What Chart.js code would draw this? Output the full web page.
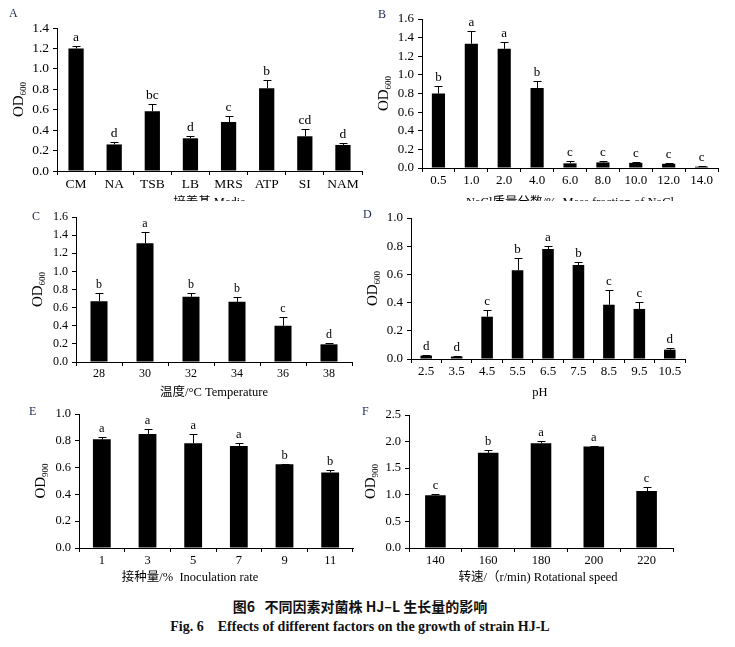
<!DOCTYPE html>
<html>
<head>
<meta charset="utf-8">
<script src="https://cdn.jsdelivr.net/npm/chart.js@4.4.1/dist/chart.umd.min.js"></script>
<style>
  body { margin: 0; background: #fff; width: 735px; height: 647px; position: relative; overflow: hidden; }
  .panel { position: absolute; overflow: hidden; }
  .tag { position: absolute; font: 12px "Liberation Serif", serif; color: #1c2450; }
  .cap { position: absolute; left: 0; width: 720px; text-align: center; color: #111; }
</style>
</head>
<body>
<div class="panel" id="pA" style="left:0;top:0;width:365px;height:201px"><canvas id="cA"></canvas></div>
<div class="panel" id="pB" style="left:365px;top:0;width:370px;height:201px"><canvas id="cB"></canvas></div>
<div class="panel" id="pC" style="left:0;top:201px;width:365px;height:200px"><canvas id="cC"></canvas></div>
<div class="panel" id="pD" style="left:365px;top:201px;width:370px;height:200px"><canvas id="cD"></canvas></div>
<div class="panel" id="pE" style="left:0;top:401px;width:365px;height:185px"><canvas id="cE"></canvas></div>
<div class="panel" id="pF" style="left:365px;top:401px;width:370px;height:185px"><canvas id="cF"></canvas></div>

<div class="tag" style="left:9px;top:6px">A</div>
<div class="tag" style="left:378px;top:7px">B</div>
<div class="tag" style="left:32px;top:209px">C</div>
<div class="tag" style="left:363px;top:207px">D</div>
<div class="tag" style="left:29px;top:404px">E</div>
<div class="tag" style="left:362px;top:404px">F</div>

<div class="cap" style="top:596px;font:bold 14px 'Noto Sans CJK SC', sans-serif">图6&nbsp;&nbsp;&nbsp;不同因素对菌株 HJ–L 生长量的影响</div>
<div class="cap" style="top:619px;font:bold 14px 'Liberation Serif', serif">Fig. 6&nbsp;&nbsp;&nbsp;&nbsp;Effects of different factors on the growth of strain HJ-L</div>

<script>
/* data */
const mediaLabels = ['CM', 'NA', 'TSB', 'LB', 'MRS', 'ATP', 'SI', 'NAM'];
const mediaOD  = [1.20, 0.26, 0.585, 0.32, 0.48, 0.81, 0.34, 0.255];
const mediaErr = [0.02, 0.025, 0.07, 0.02, 0.06, 0.08, 0.07, 0.022];
const mediaSig = ['a', 'd', 'bc', 'd', 'c', 'b', 'cd', 'd'];

const naclLabels = ['0.5', '1.0', '2.0', '4.0', '6.0', '8.0', '10.0', '12.0', '14.0'];
const naclOD  = [0.80, 1.335, 1.28, 0.86, 0.05, 0.06, 0.055, 0.045, 0.014];
const naclErr = [0.08, 0.135, 0.07, 0.07, 0.025, 0.015, 0.008, 0.005, 0.003];
const naclSig = ['b', 'a', 'a', 'b', 'c', 'c', 'c', 'c', 'c'];

const tempLabels = ['28', '30', '32', '34', '36', '38'];
const tempOD  = [0.67, 1.31, 0.72, 0.665, 0.40, 0.195];
const tempErr = [0.095, 0.12, 0.04, 0.05, 0.10, 0.018];
const tempSig = ['b', 'a', 'b', 'b', 'c', 'd'];

const phLabels = ['2.5', '3.5', '4.5', '5.5', '6.5', '7.5', '8.5', '9.5', '10.5'];
const phOD  = [0.024, 0.017, 0.30, 0.63, 0.78, 0.667, 0.385, 0.355, 0.066];
const phErr = [0.005, 0.003, 0.047, 0.087, 0.019, 0.019, 0.107, 0.052, 0.012];
const phSig = ['d', 'd', 'c', 'b', 'a', 'b', 'c', 'c', 'd'];

const inocLabels = ['1', '3', '5', '7', '9', '11'];
const inocOD  = [0.811, 0.851, 0.782, 0.762, 0.625, 0.563];
const inocErr = [0.018, 0.04, 0.067, 0.02, 0.004, 0.02];
const inocSig = ['a', 'a', 'a', 'a', 'b', 'b'];

const speedLabels = ['140', '160', '180', '200', '220'];
const speedOD  = [0.99, 1.79, 1.97, 1.91, 1.07];
const speedErr = [0.02, 0.05, 0.04, 0.015, 0.07];
const speedSig = ['c', 'b', 'a', 'a', 'c'];

const SERIF = '"Liberation Serif", "Times New Roman", serif';
const MIXED = '"Liberation Serif", "Noto Sans CJK SC", serif';

/* error bars, significance letters and axis titles */
function extras(o) {
    return {
        id: 'extras',
        afterDatasetsDraw(chart) {
            const ctx = chart.ctx, y = chart.scales.y, a = chart.chartArea;
            const meta = chart.getDatasetMeta(0);
            ctx.save();
            ctx.strokeStyle = '#000';
            ctx.fillStyle = '#000';
            ctx.lineWidth = 1;
            ctx.font = o.sigSize + 'px ' + SERIF;
            ctx.textAlign = 'center';
            ctx.textBaseline = 'alphabetic';
            meta.data.forEach((bar, i) => {
                const top = Math.round(y.getPixelForValue(o.values[i] + o.errs[i])) + 0.5;
                const x = Math.round(bar.x) + 0.5;
                ctx.beginPath();
                ctx.moveTo(x, bar.y);
                ctx.lineTo(x, top);
                ctx.moveTo(x - 4, top);
                ctx.lineTo(x + 4, top);
                ctx.stroke();
                ctx.fillText(o.sig[i], bar.x, top - 6);
            });

            // y title: OD with subscript
            ctx.save();
            ctx.translate(a.left - 39, (a.top + a.bottom) / 2);
            ctx.rotate(-Math.PI / 2);
            ctx.textAlign = 'left';
            ctx.font = '15px ' + SERIF;
            const w1 = ctx.measureText('OD').width;
            ctx.font = '9px ' + SERIF;
            const w2 = ctx.measureText(o.sub).width;
            const x0 = -(w1 + w2) / 2;
            ctx.font = '15px ' + SERIF;
            ctx.fillText('OD', x0, 5);
            ctx.font = '9px ' + SERIF;
            ctx.fillText(o.sub, x0 + w1, 8);
            ctx.restore();

            // x title
            ctx.font = '12.5px ' + MIXED;
            ctx.textAlign = 'center';
            ctx.textBaseline = 'middle';
            ctx.fillText(o.xTitle, (a.left + a.right) / 2 + (o.shift || 0), a.bottom + o.titleOff);
            ctx.restore();
        }
    };
}

function panel(id, box, area, labels, values, errs, sig, o) {
    const yW = area.l - box.l;
    const xH = box.t + box.h - area.b;
    new Chart(document.getElementById(id), {
        type: 'bar',
        data: {
            labels: labels,
            datasets: [{
                data: values,
                backgroundColor: '#000',
                borderWidth: 0,
                categoryPercentage: 1,
                barPercentage: o.barPct
            }]
        },
        options: {
            responsive: true,
            maintainAspectRatio: false,
            animation: false,
            layout: { padding: { top: area.t - box.t, right: box.l + box.w - area.r, left: 0, bottom: 0 } },
            plugins: { legend: { display: false }, tooltip: { enabled: false } },
            scales: {
                x: {
                    afterFit: s => { s.height = xH; },
                    grid: { offset: true, drawOnChartArea: false, tickLength: 4, color: '#000' },
                    border: { color: '#000', width: 1 },
                    ticks: { color: '#000', padding: 1, font: { family: SERIF, size: o.tick }, maxRotation: 0 }
                },
                y: {
                    min: 0, max: o.max,
                    afterFit: s => { s.width = yW; },
                    grid: { drawOnChartArea: false, tickLength: 4, color: '#000' },
                    border: { color: '#000', width: 1 },
                    ticks: {
                        stepSize: o.step, color: '#000', padding: 4,
                        font: { family: SERIF, size: o.tick },
                        callback: v => v.toFixed(1)
                    }
                }
            }
        },
        plugins: [extras({ values, errs, sig, sub: o.sub, xTitle: o.xTitle, titleOff: o.titleOff, shift: o.shift, sigSize: o.tick })]
    });
}

panel('cA', { l: 0, t: 0, w: 365, h: 201 }, { l: 57, t: 28, r: 362, b: 171 },
    mediaLabels, mediaOD, mediaErr, mediaSig,
    { max: 1.4, step: 0.2, tick: 13.5, barPct: 0.4, sub: '600', xTitle: '培养基 Media', titleOff: 32 });

panel('cB', { l: 365, t: 0, w: 370, h: 201 }, { l: 422, t: 19, r: 718, b: 168 },
    naclLabels, naclOD, naclErr, naclSig,
    { max: 1.6, step: 0.2, tick: 13, barPct: 0.4, sub: '600', xTitle: 'NaCl质量分数/%  Mass fraction of NaCl', titleOff: 35 });

panel('cC', { l: 0, t: 201, w: 365, h: 200 }, { l: 76, t: 217, r: 352, b: 362 },
    tempLabels, tempOD, tempErr, tempSig,
    { max: 1.6, step: 0.2, tick: 12, barPct: 0.37, sub: '600', xTitle: '温度/°C Temperature', titleOff: 31 });

panel('cD', { l: 365, t: 201, w: 370, h: 200 }, { l: 411, t: 218, r: 685, b: 359 },
    phLabels, phOD, phErr, phSig,
    { max: 1.0, step: 0.2, tick: 13, barPct: 0.38, sub: '600', xTitle: 'pH', titleOff: 34, shift: -8 });

panel('cE', { l: 0, t: 401, w: 365, h: 185 }, { l: 79, t: 414, r: 353, b: 548 },
    inocLabels, inocOD, inocErr, inocSig,
    { max: 1.0, step: 0.2, tick: 12.5, barPct: 0.39, sub: '900', xTitle: '接种量/%  Inoculation rate', titleOff: 30, shift: -26 });

panel('cF', { l: 365, t: 401, w: 370, h: 185 }, { l: 409, t: 415, r: 673, b: 548 },
    speedLabels, speedOD, speedErr, speedSig,
    { max: 2.5, step: 0.5, tick: 12.5, barPct: 0.39, sub: '900', xTitle: '转速/（r/min) Rotational speed', titleOff: 30, shift: -3 });
</script>
</body>
</html>
